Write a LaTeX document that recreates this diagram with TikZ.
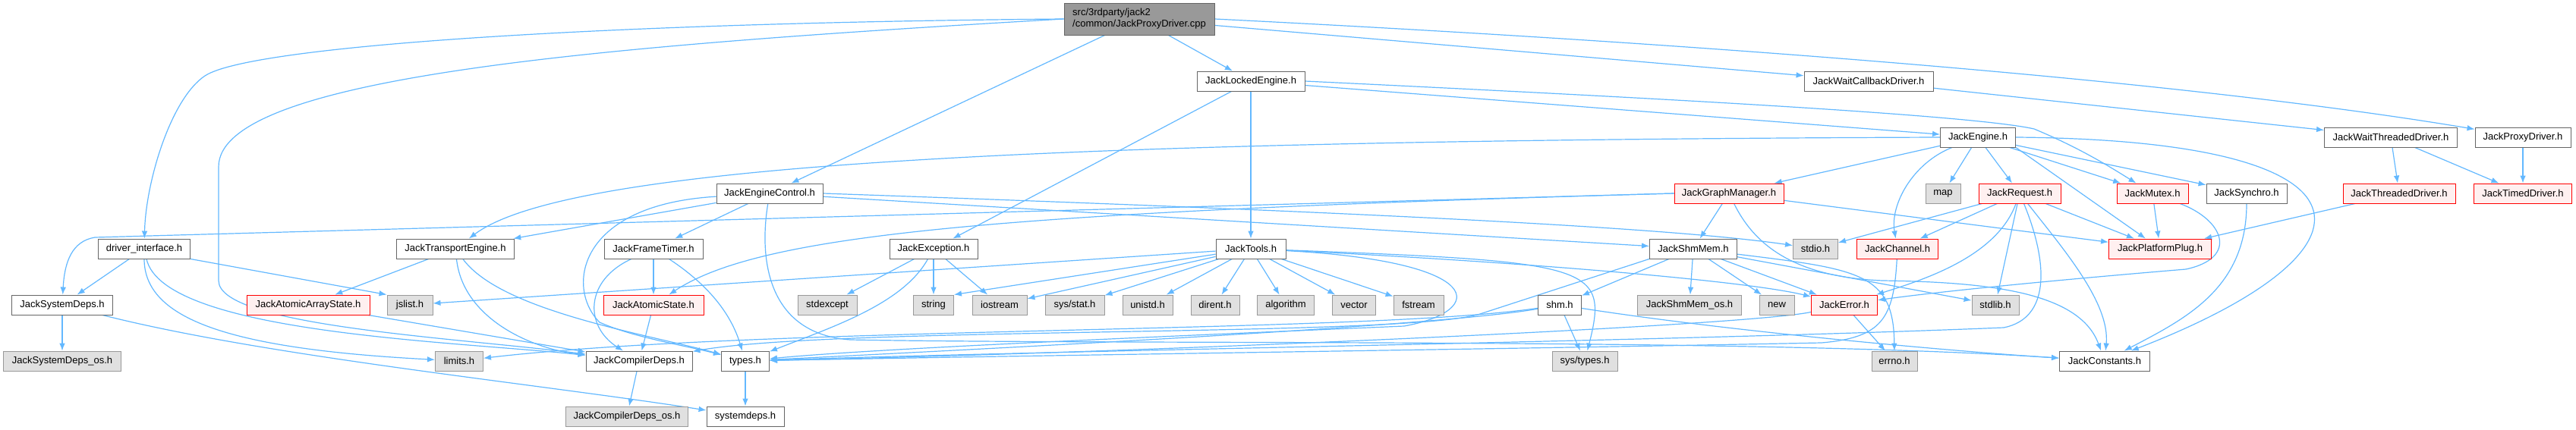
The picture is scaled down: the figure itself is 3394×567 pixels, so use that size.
\documentclass[tikz,border=0pt]{standalone}
\usepackage{fontspec}
\setmainfont{Liberation Sans}
\usetikzlibrary{arrows.meta,backgrounds}
\definecolor{Edge}{HTML}{63B8FF}
\definecolor{Frame}{HTML}{666666}
\definecolor{Ext}{HTML}{E0E0E0}
\definecolor{ExtFrame}{HTML}{999999}
\definecolor{Bad}{HTML}{FF0000}
\definecolor{BadFill}{HTML}{FFF0F0}
\definecolor{RootFill}{HTML}{999999}
\newcommand\fsz{\fontsize{6.5}{7.5}\selectfont}
\tikzset{
  >={Latex[length=5pt,width=3.8pt]},
  file/.style={draw=Frame,fill=white,line width=.45pt,minimum width=#1*.5pt,minimum height=13pt,inner sep=0pt,font=\fsz},
  ext/.style={file=#1,draw=ExtFrame,fill=Ext},
  bad/.style={file=#1,draw=Bad,fill=BadFill},
  root/.style={file=#1,fill=RootFill,minimum height=21pt,align=left},
  inc/.style={->,draw=Edge,line width=.6pt}
}
\begin{document}
\begin{tikzpicture}[x=.5pt,y=-.5pt]
  \useasboundingbox (0,0) rectangle (3394,567);
  % rows of files
  \node[root=198] (src) at (1501,25) {src/3rdparty/jack2\\/common/JackProxyDriver.cpp};
  \node[file=142] (jle) at (1648,107) {JackLockedEngine.h}; \node[file=170] (jwcd) at (2462,107) {JackWaitCallbackDriver.h};
  \node[file=99] (je) at (2606,181) {JackEngine.h}; \node[file=175] (jwtd) at (3150,181) {JackWaitThreadedDriver.h};
  \node[file=126] (jpd) at (3324,181) {JackProxyDriver.h};
  \node[file=140] (jec) at (1014,255) {JackEngineControl.h}; \node[bad=144] (jgm) at (2278,255) {JackGraphManager.h};
  \node[ext=46] (map) at (2560,255) {map}; \node[bad=108] (jreq) at (2661,255) {JackRequest.h};
  \node[bad=94] (jmutex) at (2836,255) {JackMutex.h}; \node[file=106] (jsync) at (2960,255) {JackSynchro.h};
  \node[bad=148] (jthd) at (3161,255) {JackThreadedDriver.h}; \node[bad=129] (jtimed) at (3324,255) {JackTimedDriver.h};
  \node[file=121] (di) at (190,328) {driver\_interface.h}; \node[file=155] (jte) at (600,328) {JackTransportEngine.h};
  \node[file=130] (jft) at (861,328) {JackFrameTimer.h}; \node[file=116] (jexc) at (1230,328) {JackException.h};
  \node[file=92] (jtools) at (1648,328) {JackTools.h}; \node[file=115] (jsm) at (2231,328) {JackShmMem.h};
  \node[ext=59] (stdio) at (2392,328) {stdio.h}; \node[bad=107] (jchan) at (2500,328) {JackChannel.h};
  \node[bad=135] (jpp) at (2846,328) {JackPlatformPlug.h};
  \node[file=133] (jsd) at (82,402) {JackSystemDeps.h}; \node[bad=162] (jaas) at (406,402) {JackAtomicArrayState.h};
  \node[ext=60] (jslist) at (540,402) {jslist.h}; \node[bad=132] (jas) at (861,402) {JackAtomicState.h};
  \node[ext=78] (stdexcept) at (1090,402) {stdexcept}; \node[ext=53] (string) at (1230,402) {string};
  \node[ext=72] (iostream) at (1317,402) {iostream}; \node[ext=78] (sysstat) at (1416,402) {sys/stat.h};
  \node[ext=66] (unistd) at (1512,402) {unistd.h}; \node[ext=64] (dirent) at (1601,402) {dirent.h};
  \node[ext=75] (algorithm) at (1694,402) {algorithm}; \node[ext=57] (vector) at (1784,402) {vector};
  \node[ext=66] (fstream) at (1869,402) {fstream}; \node[file=57] (shm) at (2055,402) {shm.h};
  \node[ext=137] (jsmos) at (2226,402) {JackShmMem\_os.h}; \node[ext=46] (new) at (2341,402) {new};
  \node[bad=87] (jerr) at (2430,402) {JackError.h}; \node[ext=62] (stdlib) at (2629,402) {stdlib.h};
  \node[ext=155] (jsdos) at (82,476) {JackSystemDeps\_os.h}; \node[ext=63] (limits) at (605,476) {limits.h};
  \node[file=140] (jcd) at (842,476) {JackCompilerDeps.h}; \node[file=63] (types) at (982,476) {types.h};
  \node[ext=86] (systypes) at (2088,476) {sys/types.h}; \node[ext=60] (errno) at (2496,476) {errno.h};
  \node[file=119] (jconst) at (2773,476) {JackConstants.h};
  \node[ext=161] (jcdos) at (826,549) {JackCompilerDeps\_os.h}; \node[file=102] (sysdeps) at (982,549) {systemdeps.h};
  \begin{scope}[on background layer]
    % the source file
    \draw[inc] (src.west) .. controls (800,30) and (330,60) .. (270,100) .. controls (225,130) and (192,240) .. (di);
    \draw[inc] (src.west) .. controls (800,60) and (288,100) .. (288,220) -- (288,370) .. controls (288,430) and (600,445) .. (jcd);
    \draw[inc] (src) -- (jec); \draw[inc] (src) -- (jle); \draw[inc] (src) -- (jwcd);
    \draw[inc] (src.east) .. controls (2300,60) and (2900,110) .. (jpd);
    % engine side
    \draw[inc] (jle) -- (jtools); \draw[inc] (jle) -- (jexc); \draw[inc] (jle) -- (je);
    \draw[inc] (jle.east) .. controls (2200,130) and (2600,152) .. (2680,170) .. controls (2740,195) and (2780,220) .. (jmutex);
    \draw[inc] (jwcd) -- (jwtd); \draw[inc] (jwtd) -- (jthd); \draw[inc] (jwtd) -- (jtimed);
    \draw[inc] (jpd) -- (jtimed); \draw[inc] (jthd) -- (jpp);
    \draw[inc] (je) -- (jgm); \draw[inc] (je) -- (map); \draw[inc] (je) -- (jreq);
    \draw[inc] (je) -- (jmutex); \draw[inc] (je) -- (jsync); \draw[inc] (je.south east) -- (jpp);
    \draw[inc] (je) .. controls (2520,215) and (2490,270) .. (jchan);
    \draw[inc] (je.east) .. controls (3150,185) and (3150,330) .. (jconst);
    \draw[inc] (je.west) .. controls (1400,185) and (750,215) .. (jte);
    \draw[inc] (jgm.west) -- (125,313) .. controls (95,318) and (85,345) .. (jsd);
    \draw[inc] (jgm.west) .. controls (1300,280) and (1000,310) .. (jas);
    \draw[inc] (jgm) -- (jsm); \draw[inc] (jgm) -- (jpp);
    \draw[inc] (jgm) .. controls (2310,320) and (2360,365) .. (2480,370) .. controls (2620,372) and (2740,385) .. (jconst);
    \draw[inc] (jreq) -- (stdio); \draw[inc] (jreq) -- (jchan); \draw[inc] (jreq) -- (stdlib); \draw[inc] (jreq) -- (jpp);
    \draw[inc] (jreq) .. controls (2630,340) and (2530,370) .. (jerr);
    \draw[inc] (jreq) .. controls (2720,330) and (2780,400) .. (jconst);
    \draw[inc] (jreq) .. controls (2700,350) and (2700,420) .. (2640,432) .. controls (2200,450) and (1400,462) .. (types);
    \draw[inc] (jmutex) -- (jpp);
    \draw[inc] (jmutex) .. controls (2930,290) and (2950,340) .. (2880,355) .. controls (2700,370) and (2550,385) .. (jerr);
    \draw[inc] (jsync) .. controls (2960,380) and (2880,420) .. (jconst);
    % engine control
    \draw[inc] (jec) -- (jte); \draw[inc] (jec) -- (jft); \draw[inc] (jec) -- (jsm);
    \draw[inc] (jec.east) .. controls (1800,280) and (2200,300) .. (stdio);
    \draw[inc] (jec) .. controls (1000,340) and (1010,440) .. (1120,448) .. controls (1500,455) and (2300,445) .. (jconst);
    \draw[inc] (jec) .. controls (760,270) and (745,380) .. (790,425) .. controls (835,445) and (900,455) .. (types);
    \draw[inc] (jte) -- (jaas);
    \draw[inc] (jte) .. controls (610,420) and (700,460) .. (jcd);
    \draw[inc] (jte) .. controls (660,410) and (850,440) .. (types);
    \draw[inc] (jft) -- (jas);
    \draw[inc] (jft) .. controls (770,370) and (770,430) .. (jcd);
    \draw[inc] (jft) .. controls (940,380) and (965,420) .. (types);
    \draw[inc] (jas) -- (jcd); \draw[inc] (jaas) -- (jcd);
    \draw[inc] (jcd) -- (jcdos); \draw[inc] (types) -- (sysdeps);
    % driver interface
    \draw[inc] (di) -- (jsd); \draw[inc] (di.south east) -- (jslist.north west);
    \draw[inc] (di) .. controls (190,420) and (300,460) .. (limits);
    \draw[inc] (di) .. controls (215,440) and (600,450) .. (jcd);
    \draw[inc] (jsd) -- (jsdos);
    \draw[inc] (jsd) .. controls (350,470) and (700,505) .. (sysdeps);
    % exception and tools
    \draw[inc] (jexc) -- (stdexcept); \draw[inc] (jexc) -- (string); \draw[inc] (jexc) -- (iostream);
    \draw[inc] (jexc) .. controls (1190,400) and (1100,430) .. (types);
    \draw[inc] (jtools) -- (jslist); \draw[inc] (jtools) -- (string.north east);
    \foreach \h in {iostream,sysstat,unistd,dirent,algorithm,vector,fstream} \draw[inc] (jtools) -- (\h);
    \draw[inc] (jtools) .. controls (2000,345) and (2300,370) .. (jerr);
    \draw[inc] (jtools) .. controls (2100,345) and (2120,350) .. (systypes);
    \draw[inc] (jtools) .. controls (1960,345) and (1960,410) .. (1850,430) .. controls (1500,445) and (1150,460) .. (types);
    % shared memory
    \draw[inc] (jsm) -- (shm); \draw[inc] (jsm) -- (jsmos); \draw[inc] (jsm) -- (new);
    \draw[inc] (jsm) -- (jerr); \draw[inc] (jsm) -- (stdlib);
    \draw[inc] (jsm) .. controls (2450,355) and (2495,360) .. (errno);
    \draw[inc] (jsm.south west) -- (1950,414) .. controls (1850,445) and (1100,430) .. (jcd);
    \draw[inc] (shm) -- (systypes);
    \draw[inc] (shm) .. controls (1900,430) and (1300,460) .. (types);
    \draw[inc] (shm) .. controls (1800,440) and (1000,430) .. (limits);
    \draw[inc] (shm) .. controls (2300,440) and (2600,465) .. (jconst);
    \draw[inc] (jerr) -- (errno);
    \draw[inc] (jerr) .. controls (2300,430) and (1500,465) .. (types);
    \draw[inc] (jchan) .. controls (2495,420) and (2480,445) .. (2400,452) .. controls (2000,460) and (1400,468) .. (types);
  \end{scope}
\end{tikzpicture}
\end{document}
